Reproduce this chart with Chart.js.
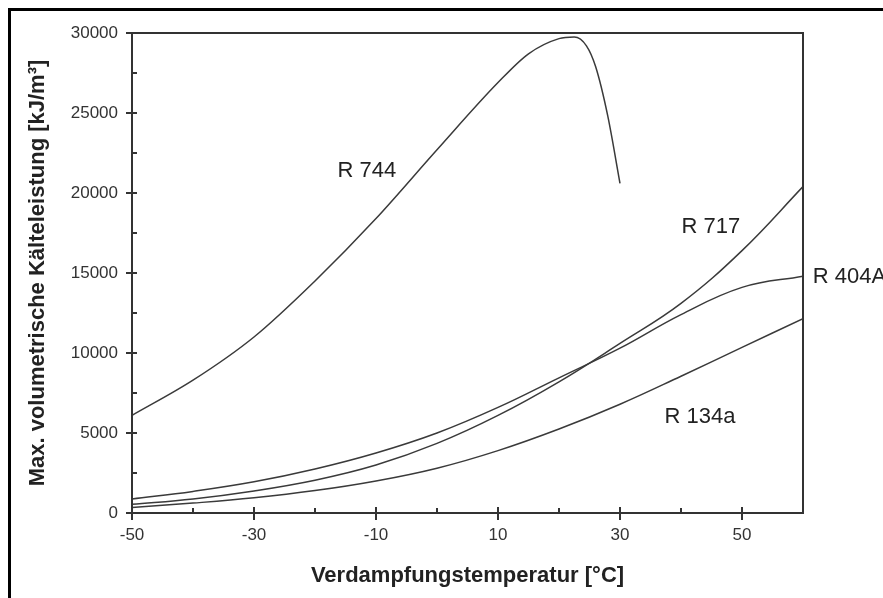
<!DOCTYPE html>
<html lang="de">
<head>
<meta charset="UTF-8">
<title>Max. volumetrische Kälteleistung</title>
<script src="https://cdn.jsdelivr.net/npm/chart.js"></script>
<style>
  body { margin: 0; background: #fff; }
  #wrap { position: relative; width: 883px; height: 598px; overflow: hidden; }
  #frame { position: absolute; left: 8px; top: 8px; right: -5px; bottom: -5px;
           border-left: 3px solid #000; border-top: 3px solid #000; }
  canvas { position: absolute; left: 0; top: 0; }
</style>
</head>
<body>
<div id="wrap">
  <div id="frame"></div>
  <canvas id="kaelteChart" width="883" height="598"></canvas>
</div>
<script>
// Verdampfungstemperatur [°C]
const temps = [-50, -40, -30, -20, -10, 0, 10, 20, 30, 40, 50, 60];
const r717  = [540, 880, 1380, 2050, 3000, 4350, 6100, 8200, 10600, 13100, 16400, 20400];
const r404a = [875, 1350, 1950, 2750, 3750, 5000, 6600, 8450, 10300, 12400, 14100, 14800];
const r134a = [350, 620, 950, 1400, 2000, 2800, 3900, 5250, 6800, 8550, 10350, 12150];

// R 744 ends at 30 °C (transcritical drop)
const r744Temps = [-50, -40, -30, -20, -10, 0, 10, 15, 20, 22.5, 24.5, 26, 28, 30];
const r744      = [6100, 8300, 11000, 14500, 18400, 22700, 26900, 28700, 29650, 29750, 29200, 27900, 24800, 20600];

const xTicks = [-50, -30, -10, 10, 30, 50];
const xMinor = [-40, -20, 0, 20, 40];
const yTicks = [0, 5000, 10000, 15000, 20000, 25000, 30000];
const yMinor = [2500, 7500, 12500, 17500, 22500, 27500];

const curveLabels = [
  { text: 'R 744',  t: -11.5, v: 21375, align: 'center' },
  { text: 'R 717',  t: 44.9,  v: 17900, align: 'center' },
  { text: 'R 404A', t: 61.6,  v: 14780, align: 'left' },
  { text: 'R 134a', t: 43.1,  v: 6030,  align: 'center' }
];

const pairs = (xs, ys) => xs.map((t, i) => ({ x: t, y: ys[i] }));

const frameAndTicks = {
  id: 'frameAndTicks',
  afterDraw(chart) {
    const { ctx, chartArea: a, scales: { x, y } } = chart;
    ctx.save();
    ctx.strokeStyle = '#333';
    ctx.lineWidth = 2;
    ctx.strokeRect(a.left, a.top, a.right - a.left, a.bottom - a.top);
    ctx.beginPath();
    xTicks.forEach(v => {
      const px = Math.round(x.getPixelForValue(v));
      ctx.moveTo(px, a.bottom - 6); ctx.lineTo(px, a.bottom + 7);
    });
    xMinor.forEach(v => {
      const px = Math.round(x.getPixelForValue(v));
      ctx.moveTo(px, a.bottom - 5); ctx.lineTo(px, a.bottom);
    });
    yTicks.forEach(v => {
      const py = Math.round(y.getPixelForValue(v));
      ctx.moveTo(a.left - 6, py); ctx.lineTo(a.left + 5, py);
    });
    yMinor.forEach(v => {
      const py = Math.round(y.getPixelForValue(v));
      ctx.moveTo(a.left, py); ctx.lineTo(a.left + 5, py);
    });
    ctx.stroke();

    ctx.font = '22px "Liberation Sans", Arial, sans-serif';
    ctx.fillStyle = '#222';
    ctx.textBaseline = 'middle';
    curveLabels.forEach(l => {
      ctx.textAlign = l.align;
      ctx.fillText(l.text, x.getPixelForValue(l.t), y.getPixelForValue(l.v));
    });
    ctx.restore();
  }
};

const lineStyle = {
  borderColor: '#3a3a3a',
  borderWidth: 1.5,
  pointRadius: 0,
  fill: false,
  tension: 0.4
};

const tickFont = { family: '"Liberation Sans", Arial, sans-serif', size: 17 };
const titleFont = { family: '"Liberation Sans", Arial, sans-serif', size: 22, weight: 'bold' };

new Chart(document.getElementById('kaelteChart'), {
  type: 'line',
  data: {
    datasets: [
      { label: 'R 744',  data: pairs(r744Temps, r744), ...lineStyle, cubicInterpolationMode: 'monotone' },
      { label: 'R 717',  data: pairs(temps, r717),  ...lineStyle },
      { label: 'R 404A', data: pairs(temps, r404a), ...lineStyle },
      { label: 'R 134a', data: pairs(temps, r134a), ...lineStyle }
    ]
  },
  options: {
    responsive: false,
    animation: false,
    layout: { padding: { top: 33, right: 80, left: 0, bottom: 0 } },
    plugins: { legend: { display: false }, tooltip: { enabled: false } },
    scales: {
      x: {
        type: 'linear',
        min: -50,
        max: 60,
        afterBuildTicks: s => { s.ticks = xTicks.map(v => ({ value: v })); },
        afterFit: s => { s.height = 85; },
        grid: { display: false, drawTicks: false },
        border: { display: false },
        ticks: { font: tickFont, color: '#333', padding: 12, callback: v => String(v) },
        title: {
          display: true,
          text: 'Verdampfungstemperatur [°C]',
          font: titleFont,
          color: '#222',
          padding: { top: 0, bottom: 9 }
        }
      },
      y: {
        min: 0,
        max: 30000,
        afterBuildTicks: s => { s.ticks = yTicks.map(v => ({ value: v })); },
        afterFit: s => { s.width = 132; },
        grid: { display: false, drawTicks: false },
        border: { display: false },
        ticks: { font: tickFont, color: '#333', padding: 14, callback: v => String(v) },
        title: {
          display: true,
          text: 'Max. volumetrische Kälteleistung [kJ/m³]',
          font: titleFont,
          color: '#222',
          padding: { top: 25, bottom: 0 }
        }
      }
    }
  },
  plugins: [frameAndTicks]
});
</script>
</body>
</html>
